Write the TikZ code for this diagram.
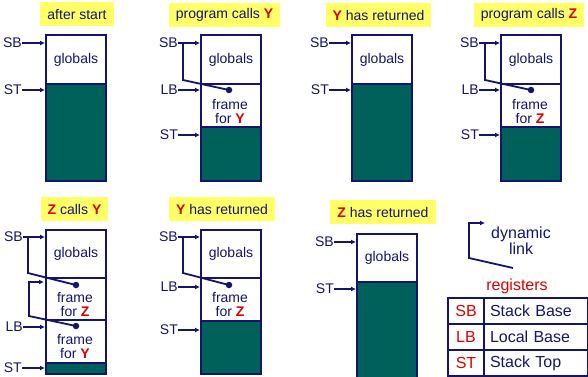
\documentclass[tikz,border=0pt]{standalone}
\usepackage{fontspec}
\setmainfont{Liberation Sans}
\usetikzlibrary{arrows.meta}
\definecolor{navy}{RGB}{20,20,110}
\definecolor{tealfill}{RGB}{0,96,90}
\definecolor{hl}{RGB}{255,255,102}
\definecolor{rd}{RGB}{220,0,0}
\newcommand\RY{\textcolor{rd}{\textbf{Y}}}
\newcommand\RZ{\textcolor{rd}{\textbf{Z}}}
\begin{document}
\begin{tikzpicture}[x=1pt,y=-1pt,
  font=\fontsize{14}{16}\selectfont, text=navy,
  seg/.style={draw=navy, line width=2pt, fill=white, minimum width=60pt, anchor=north west, inner sep=0pt},
  stk/.style={seg, fill=tealfill},
  reg/.style={anchor=east, inner sep=0pt, text=navy},
  ptr/.style={draw=navy, line width=1.3pt, -{Latex[length=5pt,width=5pt]}},
  link/.style={draw=navy, line width=1.8pt},
  dot/.style={circle, fill=navy, inner sep=0pt, minimum size=6.5pt},
  ttl/.style={fill=hl, inner xsep=7pt, minimum height=24pt, text=navy},
  fr/.style={align=center, inner sep=0pt, font=\fontsize{14}{14}\selectfont},
  big/.style={font=\fontsize{16}{16}\selectfont},
  cell/.style={draw=navy, line width=2pt, anchor=north west, minimum height=26pt, inner sep=0pt, big},
  cellA/.style={cell, minimum width=36pt, text=rd},
  cellB/.style={cell, minimum width=104pt, text width=92pt, inner xsep=6pt, align=left}]
\useasboundingbox (0,0) rectangle (588,376);

% ---------- panel 1: after start
\node[ttl] (t1) at (77,14) {after start};
\node[seg, minimum height=49pt] (g1) at (45,34) {globals};
\node[stk, minimum height=97pt] (s1) at (45,83) {};
\node[reg] (sb1) at (22,43) {SB};
\node[reg] (st1) at (22,90) {ST};
\draw[ptr] (sb1.east) -- (sb1.east -| g1.west);
\draw[ptr] (st1.east) -- (st1.east -| g1.west);

% ---------- panel 2: program calls Y
\node[ttl] (t2) at (224.5,15) {program calls \RY};
\node[seg, minimum height=49pt] (g2) at (200,34) {globals};
\node[seg, minimum height=43pt] (y2) at (200,83) {};
\node[stk, minimum height=54pt] (s2) at (200,126) {};
\node[fr] (fy2) at (230,111) {frame\\for \RY};
\node[reg] (sb2) at (178,43) {SB};
\node[reg] (lb2) at (178,90) {LB};
\node[reg] (st2) at (178,135) {ST};
\draw[ptr] (sb2.east) -- (sb2.east -| g2.west);
\draw[ptr] (lb2.east) -- (lb2.east -| g2.west);
\draw[ptr] (st2.east) -- (st2.east -| g2.west);
\node[dot] (d2) at (229,90) {};
\coordinate (k2) at (183,43);
\draw[link] (k2) -- ++(0,37) -- (d2.center);

% ---------- panel 3: Y has returned
\node[ttl] (t3) at (378.5,15) {\RY{} has returned};
\node[seg, minimum height=49pt] (g3) at (351,34) {globals};
\node[stk, minimum height=97pt] (s3) at (351,83) {};
\node[reg] (sb3) at (329,43) {SB};
\node[reg] (st3) at (329,90) {ST};
\draw[ptr] (sb3.east) -- (sb3.east -| g3.west);
\draw[ptr] (st3.east) -- (st3.east -| g3.west);

% ---------- panel 4: program calls Z
\node[ttl] (t4) at (529,15) {program calls \RZ};
\node[seg, minimum height=49pt] (g4) at (500,34) {globals};
\node[seg, minimum height=43pt] (z4) at (500,83) {};
\node[stk, minimum height=54pt] (s4) at (500,126) {};
\node[fr] (fz4) at (530,111) {frame\\for \RZ};
\node[reg] (sb4) at (479,43) {SB};
\node[reg] (lb4) at (479,90) {LB};
\node[reg] (st4) at (479,135) {ST};
\draw[ptr] (sb4.east) -- (sb4.east -| g4.west);
\draw[ptr] (lb4.east) -- (lb4.east -| g4.west);
\draw[ptr] (st4.east) -- (st4.east -| g4.west);
\node[dot] (d4) at (531,90) {};
\coordinate (k4) at (485,43);
\draw[link] (k4) -- ++(0,37) -- (d4.center);

% ---------- panel 5: Z calls Y
\node[ttl] (t5) at (74.5,209) {\RZ{} calls \RY};
\node[seg, minimum height=48pt] (g5) at (45,229) {globals};
\node[seg, minimum height=42pt] (z5) at (45,277) {};
\node[seg, minimum height=43pt] (y5) at (45,319) {};
\node[stk, minimum height=11pt] (s5) at (45,362) {};
\node[fr] (fz5) at (75,304) {frame\\for \RZ};
\node[fr] (fy5) at (75,346.5) {frame\\for \RY};
\node[reg] (sb5) at (23,237) {SB};
\node[reg] (lb5) at (23,327) {LB};
\node[reg] (st5) at (22,368) {ST};
\draw[ptr] (sb5.east) -- (sb5.east -| g5.west);
\draw[ptr] (lb5.east) -- (lb5.east -| g5.west);
\draw[ptr] (st5.east) -- (st5.east -| g5.west);
\node[dot] (d5a) at (76,285) {};
\node[dot] (d5b) at (76,326) {};
\coordinate (k5a) at (28,237);
\draw[link] (k5a) -- ++(0,36) -- (d5a.center);
\coordinate (k5b) at (29,316);
\draw[link, -{Latex[length=5pt,width=5pt]}] (d5b.center) -- (k5b) -- ++(0,-34) -- ++(15,0);

% ---------- panel 6: Y has returned
\node[ttl] (t6) at (222,209) {\RY{} has returned};
\node[seg, minimum height=48pt] (g6) at (200,229) {globals};
\node[seg, minimum height=43pt] (z6) at (200,277) {};
\node[stk, minimum height=53pt] (s6) at (200,320) {};
\node[fr] (fz6) at (230,304.5) {frame\\for \RZ};
\node[reg] (sb6) at (178,237) {SB};
\node[reg] (lb6) at (178,287) {LB};
\node[reg] (st6) at (178,330) {ST};
\draw[ptr] (sb6.east) -- (sb6.east -| g6.west);
\draw[ptr] (lb6.east) -- (lb6.east -| g6.west);
\draw[ptr] (st6.east) -- (st6.east -| g6.west);
\node[dot] (d6) at (229,285) {};
\coordinate (k6) at (183,237);
\draw[link] (k6) -- ++(0,36) -- (d6.center);

% ---------- panel 7: Z has returned
\node[ttl] (t7) at (383,212) {\RZ{} has returned};
\node[seg, minimum height=48pt] (g7) at (356,233) {globals};
\node[stk, minimum height=100pt] (s7) at (356,281) {};
\node[reg] (sb7) at (334,242) {SB};
\node[reg] (st7) at (334,289) {ST};
\draw[ptr] (sb7.east) -- (sb7.east -| g7.west);
\draw[ptr] (st7.east) -- (st7.east -| g7.west);

% ---------- legend: dynamic link
\coordinate (lgA) at (513,268);
\coordinate (lgB) at (469,258);
\coordinate (lgC) at (469,223);
\coordinate (lgD) at (485,223);
\draw[link, -{Latex[length=5pt,width=5pt]}] (lgA) -- (lgB) -- (lgC) -- (lgD);
\node[align=center, inner sep=0pt, big] (dl) at (521,241) {dynamic\\link};

% ---------- legend: registers table
\node[text=rd, inner sep=0pt, big] (rg) at (517,286) {registers};
\node[cellA] (a1) at (447,297) {SB};
\node[cellB] (b1) at (483,297) {Stack Base};
\node[cellA] (a2) at (447,323) {LB};
\node[cellB] (b2) at (483,323) {Local Base};
\node[cellA] (a3) at (447,349) {ST};
\node[cellB] (b3) at (483,349) {Stack Top};
\end{tikzpicture}
\end{document}
